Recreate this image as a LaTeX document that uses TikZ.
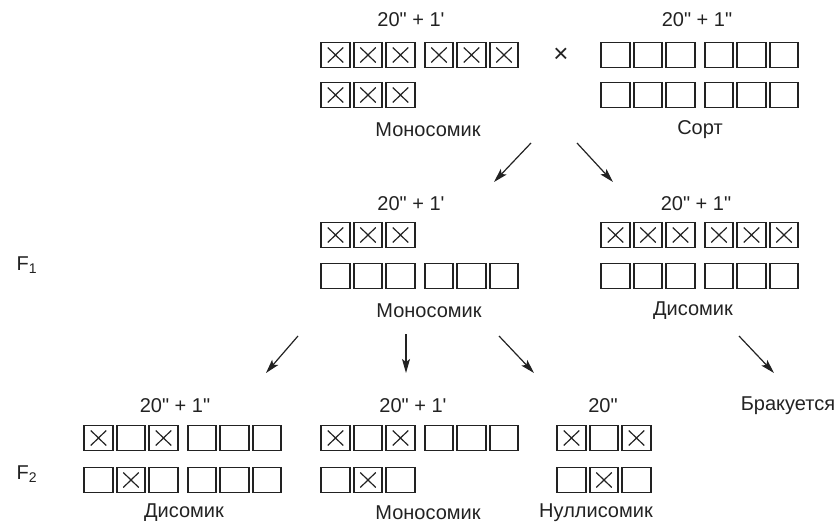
\documentclass[tikz,border=0pt]{standalone}
\usepackage{fontspec}
\setmainfont{Liberation Sans}[Ligatures=TeXOff]
\usetikzlibrary{arrows.meta}
\definecolor{ink}{HTML}{222222}
\tikzset{
  lab/.style={font=\fontsize{20}{24}\selectfont, text=ink, inner sep=0pt},
  ec/.style={draw=ink, line width=1.7pt, minimum width=28.5pt, minimum height=25pt, inner sep=0pt},
  xc/.style={ec, path picture={
     \draw[ink, line width=1.2pt]
       ([xshift=6.5pt,yshift=-5pt]path picture bounding box.north west) -- ([xshift=-6.5pt,yshift=5pt]path picture bounding box.south east)
       ([xshift=-6.5pt,yshift=-5pt]path picture bounding box.north east) -- ([xshift=6.5pt,yshift=5pt]path picture bounding box.south west);}},
  arr/.style={draw=ink, line width=1.2pt, -{Stealth[length=14pt,width=8pt,inset=3pt]}}
}
\newcommand\cells[4]{%
  \foreach \t [count=\i] in {#4}{%
    \pgfmathsetmacro\cx{#2+14.5+(\i-1)*32.5+(\i>3)*6}%
    \node[\t] (#1-\i) at (\cx,#3) {};}}
\begin{document}
\begin{tikzpicture}[x=1pt,y=-1pt]
\useasboundingbox (0,0) rectangle (839,524);
% ---- parents
\node[lab] (pm) at (411,20) {20" + 1'};
\node[lab] (pv) at (697,20) {20" + 1"};
\cells{pa}{321}{55}{xc,xc,xc,xc,xc,xc}
\cells{pb}{321}{95}{xc,xc,xc}
\node[lab, font=\fontsize{26}{30}\selectfont] (cross) at (561,55) {×};
\cells{pc}{601}{55}{ec,ec,ec,ec,ec,ec}
\cells{pd}{601}{95}{ec,ec,ec,ec,ec,ec}
\node[lab] (pmn) at (428,130) {Моносомик};
\node[lab] (pvn) at (700,130) {Сорт};
% ---- F1
\node[lab] (f1) at (27,265) {F\textsubscript{1}};
\node[lab] (am) at (411,204) {20" + 1'};
\node[lab] (ad) at (696,204) {20" + 1"};
\cells{aa}{321}{235}{xc,xc,xc}
\cells{ab}{321}{276}{ec,ec,ec,ec,ec,ec}
\cells{ac}{601}{235}{xc,xc,xc,xc,xc,xc}
\cells{ad}{601}{276}{ec,ec,ec,ec,ec,ec}
\node[lab] (amn) at (429,311) {Моносомик};
\node[lab] (adn) at (693,311) {Дисомик};
% ---- F2
\node[lab] (f2) at (27,474) {F\textsubscript{2}};
\node[lab] (bd) at (175,406) {20" + 1"};
\node[lab] (bm) at (413,406) {20" + 1'};
\node[lab] (bn) at (603,406) {20"};
\node[lab] (br) at (788,406) {Бракуется};
\cells{ba}{84}{438}{xc,ec,xc,ec,ec,ec}
\cells{bb}{84}{480}{ec,xc,ec,ec,ec,ec}
\cells{bc}{321}{438}{xc,ec,xc,ec,ec,ec}
\cells{bd}{321}{480}{ec,xc,ec}
\cells{be}{557}{438}{xc,ec,xc}
\cells{bf}{557}{480}{ec,xc,ec}
\node[lab] (bdn) at (184,513) {Дисомик};
\node[lab] (bmn) at (428,513) {Моносомик};
\node[lab] (bnn) at (596,513) {Нуллисомик};
% ---- arrows
\coordinate (a1s) at (531,143); \coordinate (a1e) at (494,182);
\coordinate (a2s) at (577,143); \coordinate (a2e) at (613,182);
\coordinate (b1s) at (298,336); \coordinate (b1e) at (266,373);
\coordinate (b2s) at (406,334); \coordinate (b2e) at (406,373);
\coordinate (b3s) at (499,336); \coordinate (b3e) at (534,373);
\coordinate (b4s) at (739,336); \coordinate (b4e) at (774,373);
\draw[arr] (a1s) -- (a1e);
\draw[arr] (a2s) -- (a2e);
\draw[arr] (b1s) -- (b1e);
\draw[arr] (b2s) -- (b2e);
\draw[arr] (b3s) -- (b3e);
\draw[arr] (b4s) -- (b4e);
\end{tikzpicture}
\end{document}
